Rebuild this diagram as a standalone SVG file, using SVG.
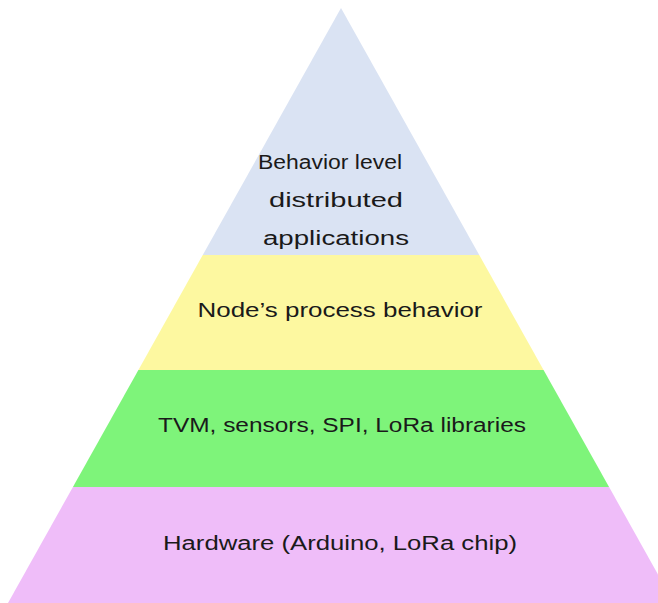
<svg xmlns="http://www.w3.org/2000/svg" width="658" height="603" viewBox="0 0 658 603">
<style>
.t{font-family:"Liberation Sans","Open Sans",Arial,sans-serif;font-size:20px;fill:#1a1a1a;text-anchor:middle}
</style>
<defs>
<clipPath id="tri"><polygon points="341,8 8,603 674,603"/></clipPath>
</defs>
<rect width="658" height="603" fill="#ffffff"/>
<g clip-path="url(#tri)">
<g id="layer1"><rect x="0" y="0" width="700" height="255" fill="#dae3f3"/></g>
<g id="layer2"><rect x="0" y="255" width="700" height="115" fill="#fdf8a0"/></g>
<g id="layer3"><rect x="0" y="370" width="700" height="117" fill="#7ef47a"/></g>
<g id="layer4"><rect x="0" y="487" width="700" height="116" fill="#efbdf9"/></g>
</g>
<g id="labels">
<text class="t" x="330" y="169" textLength="144" lengthAdjust="spacingAndGlyphs">Behavior level</text>
<text class="t" x="336" y="207" textLength="134" lengthAdjust="spacingAndGlyphs">distributed</text>
<text class="t" x="336" y="245" textLength="146" lengthAdjust="spacingAndGlyphs">applications</text>
<text class="t" x="340" y="317" textLength="285" lengthAdjust="spacingAndGlyphs">Node’s process behavior</text>
<text class="t" x="342" y="432" textLength="368" lengthAdjust="spacingAndGlyphs">TVM, sensors, SPI, LoRa libraries</text>
<text class="t" x="340" y="550" textLength="354" lengthAdjust="spacingAndGlyphs">Hardware (Arduino, LoRa chip)</text>
</g>
</svg>
